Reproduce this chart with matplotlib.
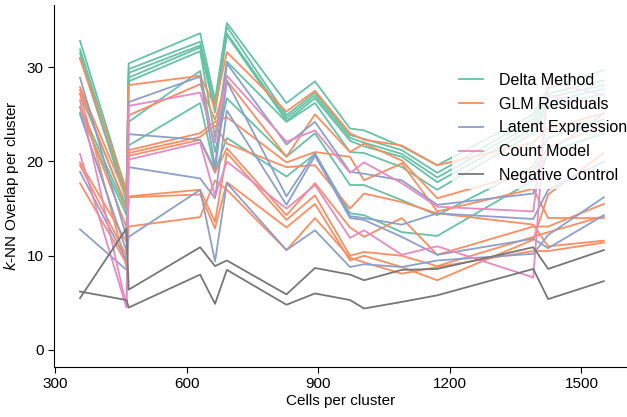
import matplotlib
matplotlib.use("Agg")
import matplotlib.pyplot as plt

plt.rcParams['font.family'] = ['Liberation Sans', 'DejaVu Sans']

cells = [356, 462, 467, 630, 664, 691, 827, 892, 972, 1004, 1090, 1171, 1390, 1424, 1551]

delta_method = [
    [32.8, 16.8, 30.4, 33.6, 26.5, 34.7, 26.2, 28.5, 23.5, 23.3, 21.6, 19.6, 25.0, 27.8, 29.7],
    [31.9, 16.5, 29.8, 32.7, 25.9, 34.3, 24.9, 27.3, 22.8, 22.4, 21.2, 18.8, 24.5, 27.2, 28.6],
    [31.5, 16.2, 29.4, 32.3, 25.6, 33.6, 24.6, 27.0, 22.5, 22.0, 20.8, 18.3, 24.0, 26.8, 28.1],
    [31.0, 15.8, 28.9, 32.1, 25.2, 33.4, 24.3, 26.7, 22.2, 21.6, 20.5, 17.8, 23.5, 26.3, 27.7],
    [27.2, 15.3, 28.5, 31.7, 22.6, 30.6, 24.2, 26.2, 21.0, 20.9, 19.4, 17.0, 23.0, 25.8, 27.2],
    [25.8, 14.8, 24.2, 29.6, 21.0, 26.7, 20.5, 23.0, 17.5, 17.5, 15.9, 14.3, 19.5, 22.5, 24.5],
    [25.2, 14.3, 21.7, 26.2, 19.0, 22.5, 18.4, 20.8, 14.5, 14.3, 12.5, 12.1, 18.0, 21.0, 23.0],
]
glm_residuals = [
    [30.9, 17.0, 28.1, 29.1, 25.8, 31.6, 25.3, 27.5, 23.0, 22.3, 21.7, 19.6, 22.0, 23.5, 25.1],
    [27.9, 16.2, 24.9, 28.2, 24.4, 28.6, 20.5, 25.0, 21.0, 21.9, 20.1, 16.1, 19.0, 21.5, 23.9],
    [27.6, 15.0, 21.2, 23.0, 24.2, 24.7, 19.9, 21.0, 20.5, 18.0, 19.8, 14.7, 17.1, 14.0, 14.0],
    [25.7, 13.0, 20.9, 22.6, 23.8, 21.9, 19.4, 19.6, 15.0, 16.6, 15.7, 14.5, 13.3, 11.0, 11.6],
    [19.9, 11.5, 20.6, 22.3, 18.8, 21.4, 14.3, 17.7, 13.0, 12.0, 14.0, 10.1, 13.1, 13.1, 15.5],
    [19.6, 10.0, 16.3, 17.0, 13.6, 20.9, 13.8, 16.4, 10.0, 10.4, 10.0, 8.9, 12.0, 12.5, 14.2],
    [17.7, 9.2, 16.2, 16.5, 12.9, 17.8, 13.0, 15.5, 9.5, 10.0, 8.8, 7.4, 11.7, 16.5, 20.9],
    [27.2, 8.8, 13.1, 14.1, 18.0, 17.0, 10.6, 14.0, 9.8, 9.3, 8.1, 8.8, 10.5, 10.5, 11.4],
]
latent_expression = [
    [28.9, 12.0, 26.3, 29.0, 19.4, 30.4, 21.8, 24.2, 18.9, 18.7, 18.0, 15.4, 16.6, 21.0, 25.1],
    [25.0, 10.5, 22.9, 22.3, 19.1, 28.5, 16.3, 20.9, 14.2, 14.0, 13.3, 14.5, 13.9, 17.0, 20.0],
    [18.9, 9.5, 19.4, 18.2, 16.1, 25.4, 15.4, 20.6, 14.0, 13.8, 12.0, 10.1, 11.8, 10.8, 14.3],
    [12.8, 8.5, 12.0, 17.0, 9.4, 17.7, 10.6, 12.7, 8.8, 9.1, 8.8, 9.5, 10.2, 12.2, 16.2],
]
count_model = [
    [20.8, 4.5, 25.9, 27.3, 22.0, 29.1, 22.1, 23.3, 18.8, 19.9, 17.7, 15.2, 14.7, 27.0, 26.0],
    [26.5, 4.6, 20.2, 22.0, 16.3, 20.0, 15.0, 17.5, 11.9, 12.7, 10.1, 11.0, 7.7, 28.5, 27.0],
]
negative_control = [
    [5.5, 12.9, 6.4, 10.9, 8.9, 9.5, 5.9, 8.7, 8.0, 7.4, 8.5, 8.6, 10.9, 8.6, 10.6],
    [6.2, 5.3, 4.5, 8.0, 4.9, 8.5, 4.8, 6.0, 5.3, 4.4, 5.1, 5.8, 8.6, 5.4, 7.3],
]

groups = ["Delta Method", "GLM Residuals", "Latent Expression", "Count Model", "Negative Control"]
group_data = [delta_method, glm_residuals, latent_expression, count_model, negative_control]
colors = ["#66c2a5", "#fc8d62", "#8da0cb", "#e78ac3", "#777777"]

fig = plt.figure(figsize=(6.27, 4.17), dpi=100)
ax = fig.add_axes([0.0861, 0.12, 0.914, 0.868])

for name, data, col in zip(groups, group_data, colors):
    for i, ys in enumerate(data):
        ax.plot(cells, ys, color=col, lw=1.3, label=name if i == 0 else None)

ax.set_xlim(296.6, 1604)
ax.set_ylim(-1.8, 36.6)
ax.set_xticks([300, 600, 900, 1200, 1500])
ax.set_yticks([0, 10, 20, 30])
ax.spines['top'].set_visible(False)
ax.spines['right'].set_visible(False)
ax.tick_params(labelsize=11, length=4)
ax.set_xlabel("Cells per cluster", fontsize=11, labelpad=2)
ax.set_ylabel("$k$-NN Overlap per cluster", fontsize=11)

leg = ax.legend(loc='upper left', bbox_to_anchor=(0.695, 0.83), frameon=True,
                fontsize=11.5, handlelength=1.5, handletextpad=1.0, labelspacing=0.55,
                borderaxespad=0)
leg.get_frame().set_facecolor('white')
leg.get_frame().set_edgecolor('none')
leg.get_frame().set_alpha(0.8)

fig.savefig("out.png", dpi=100)
